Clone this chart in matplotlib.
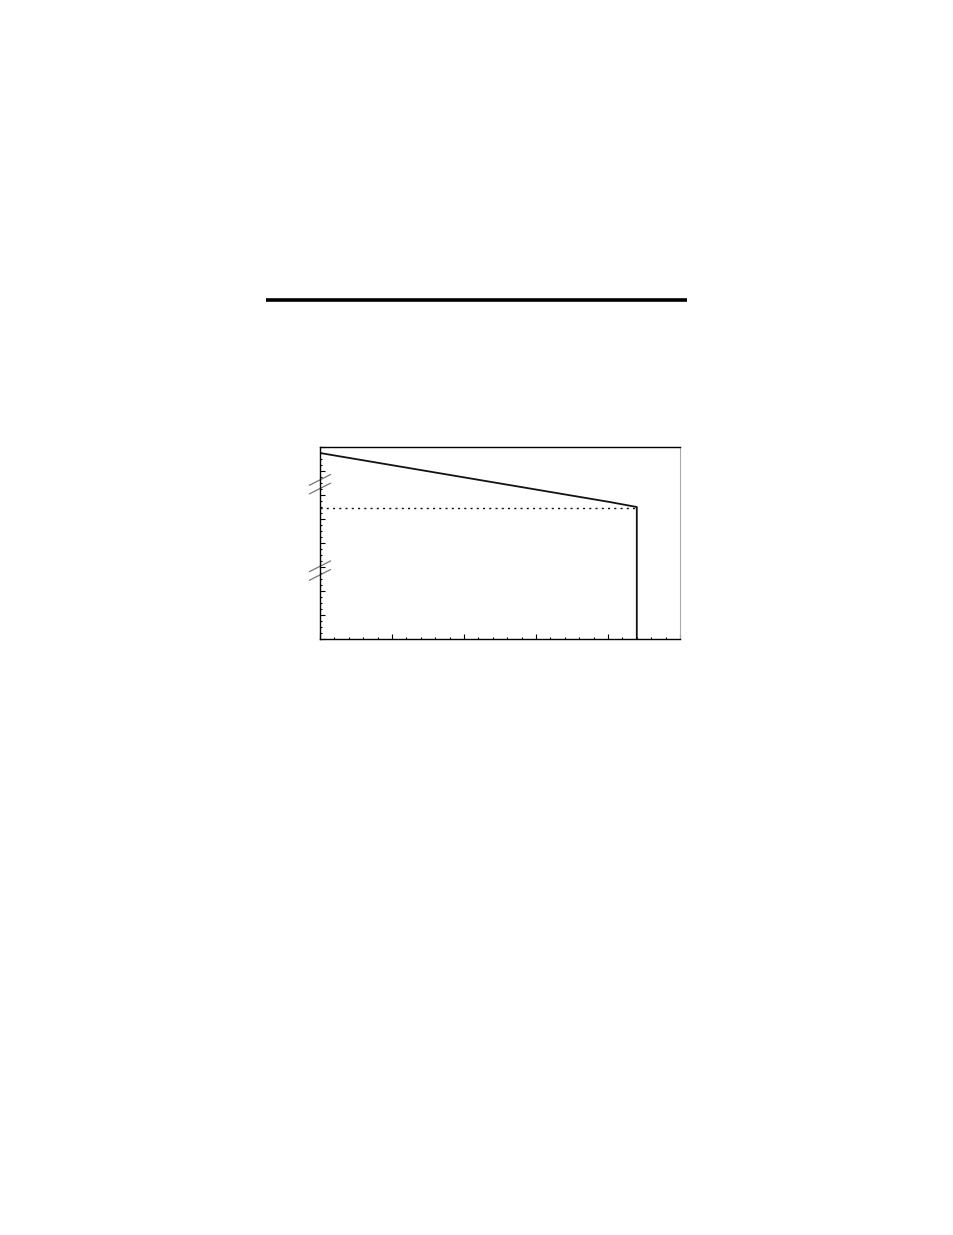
import numpy as np
import matplotlib.pyplot as plt
from matplotlib.lines import Line2D
from matplotlib.ticker import MultipleLocator, NullFormatter

# curve (axis units: x 0-25, y 0-8)
curve_x = [0, 20.1, 22.0, 22.0]
curve_y = [7.75, 5.71, 5.5, 0.0]
ref_level = 5.46
break_levels = [6.45, 2.85]

fig = plt.figure(figsize=(9.54, 12.35), dpi=100)

# heavy rule above the plot
fig.add_artist(Line2D([266 / 954, 687 / 954], [1 - 300 / 1235] * 2,
                      color='black', lw=2.6, solid_capstyle='butt'))

ax = fig.add_axes([320 / 954, 1 - 639 / 1235, 360 / 954, 192 / 1235])
ax.plot(curve_x, curve_y, color='#111111', lw=1.3)
ax.plot([0, curve_x[-1]], [ref_level, ref_level], color='#111111',
        lw=1.0, linestyle=(0, (1.5, 3)))

ax.set_xlim(0, 25)
ax.set_ylim(0, 8)
ax.xaxis.set_major_locator(MultipleLocator(5))
ax.xaxis.set_minor_locator(MultipleLocator(1))
ax.yaxis.set_major_locator(MultipleLocator(1))
ax.yaxis.set_minor_locator(MultipleLocator(0.25))
ax.xaxis.set_major_formatter(NullFormatter())
ax.yaxis.set_major_formatter(NullFormatter())
ax.tick_params(which='both', direction='in', top=False, right=False, width=0.8)
ax.tick_params(which='major', length=3.5)
ax.tick_params(which='minor', length=1.6)
for side in ['left', 'bottom', 'top']:
    ax.spines[side].set_linewidth(1.0)
ax.spines['right'].set_color('#aaaaaa')

# axis break marks on the left spine
for yb in break_levels:
    for dy in (-0.18, 0.18):
        ax.plot([-0.72, 0.72], [yb + dy - 0.22, yb + dy + 0.22], color='#777777',
                lw=0.9, clip_on=False)

fig.savefig('out.png', dpi=100)
